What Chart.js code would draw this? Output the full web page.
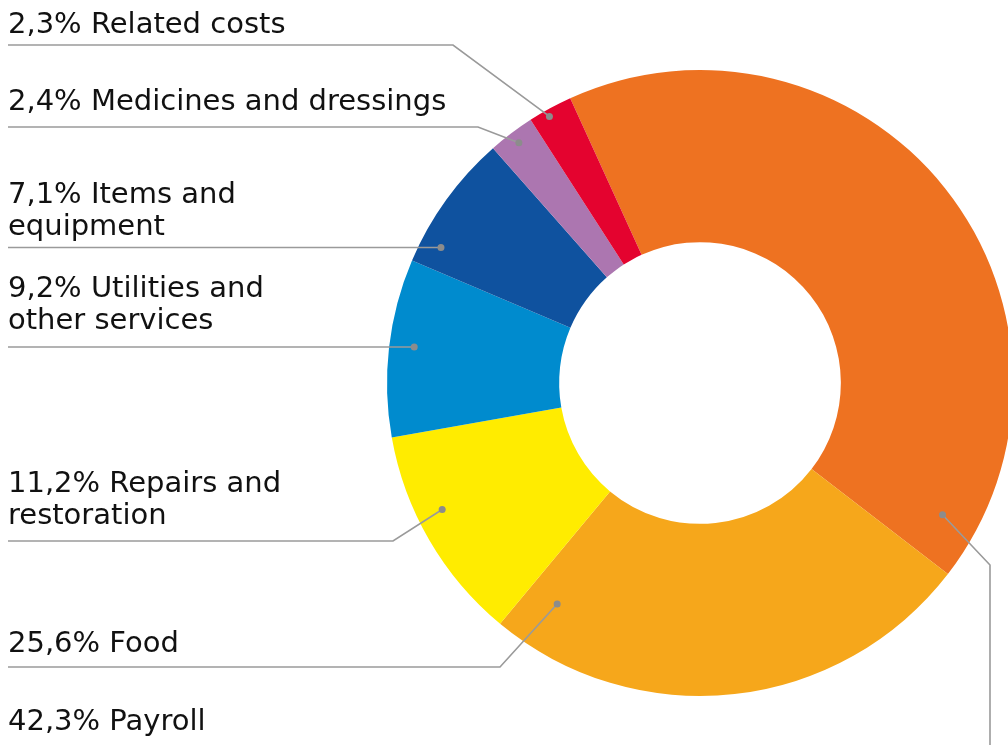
<!DOCTYPE html>
<html>
<head>
<meta charset="utf-8">
<script src="https://cdn.jsdelivr.net/npm/chart.js@4.4.1/dist/chart.umd.min.js"></script>
<style>
  html, body { margin: 0; padding: 0; background: #fff; overflow: hidden; }
  #wrap { position: relative; width: 1100px; height: 745px; }
</style>
</head>
<body>
<div id="wrap"><canvas id="costChart"></canvas></div>
<script>
const categories = ['Payroll', 'Food', 'Repairs and\nrestoration', 'Utilities and\nother services',
                    'Items and\nequipment', 'Medicines and dressings', 'Related costs'];
const shares = [42.3, 25.6, 11.2, 9.2, 7.1, 2.4, 2.3];
const sliceColors = ['#EE7221', '#F6A71B', '#FFEC00', '#008BCE', '#0F529F', '#AC76B0', '#E4032F'];

// where each callout sits (baseline of first text line, y of its rule, elbow x, dot placement)
const callouts = [
  { base: 730,   ruleY: null,  elbowX: 990, elbowY: 565, f: 0.94, g: 0.785, down: true }, // Payroll
  { base: 651.5, ruleY: 667,   elbowX: 500, f: 0.926, g: 0.71 },   // Food
  { base: 491.5, ruleY: 541,   elbowX: 393, f: 0.60,  g: 0.85 },   // Repairs
  { base: 297,   ruleY: 347,   elbowX: null, g: 0.855 },           // Utilities
  { base: 202.5, ruleY: 247.5, elbowX: null, g: 0.88 },            // Items
  { base: 109.5, ruleY: 127,   elbowX: 478, f: 0.51, g: 0.93 },    // Medicines
  { base: 32.5,  ruleY: 45,    elbowX: 453, f: 0.40, g: 0.96 }     // Related
];

const fmt = v => v.toFixed(1).replace('.', ',') + '%';

const calloutPlugin = {
  id: 'callouts',
  afterDraw(chart) {
    const ctx = chart.ctx;
    const arcs = chart.getDatasetMeta(0).data;
    ctx.save();
    ctx.font = '29px "DejaVu Sans"';
    ctx.textBaseline = 'alphabetic';
    ctx.textAlign = 'left';
    arcs.forEach((arc, i) => {
      const c = callouts[i];
      const p = arc.getProps(['x', 'y', 'startAngle', 'endAngle', 'innerRadius', 'outerRadius'], true);
      const r = p.innerRadius + c.g * (p.outerRadius - p.innerRadius);
      let dx, dy;
      if (c.elbowX === null) {
        dy = c.ruleY;
        dx = p.x - Math.sqrt(r * r - (c.ruleY - p.y) * (c.ruleY - p.y));
      } else {
        const a = p.startAngle + c.f * (p.endAngle - p.startAngle);
        dx = p.x + r * Math.cos(a);
        dy = p.y + r * Math.sin(a);
      }
      // leader line
      ctx.strokeStyle = '#9a9a9a';
      ctx.lineWidth = 1.6;
      ctx.beginPath();
      ctx.moveTo(dx, dy);
      if (c.down) {
        ctx.lineTo(c.elbowX, c.elbowY);
        ctx.lineTo(c.elbowX, 760);
      } else {
        if (c.elbowX !== null) ctx.lineTo(c.elbowX, c.ruleY);
        ctx.lineTo(8, c.ruleY);
      }
      ctx.stroke();
      // dot
      ctx.fillStyle = '#8c8c8c';
      ctx.beginPath();
      ctx.arc(dx, dy, 3.5, 0, Math.PI * 2);
      ctx.fill();
      // text
      ctx.fillStyle = '#111111';
      const lines = (fmt(shares[i]) + ' ' + categories[i]).split('\n');
      lines.forEach((ln, k) => ctx.fillText(ln, 8, c.base + k * 32));
    });
    ctx.restore();
  }
};

new Chart(document.getElementById('costChart'), {
  type: 'doughnut',
  data: {
    labels: categories,
    datasets: [{
      data: shares,
      backgroundColor: sliceColors,
      borderWidth: 0,
      hoverOffset: 0,
      offset: 0
    }]
  },
  options: {
    responsive: true,
    maintainAspectRatio: false,
    animation: false,
    rotation: -24.5,
    cutout: '45%',
    layout: { padding: { left: 387, right: 87, top: 70, bottom: 49 } },
    plugins: {
      legend: { display: false },
      tooltip: { enabled: false }
    }
  },
  plugins: [calloutPlugin]
});
</script>
</body>
</html>
